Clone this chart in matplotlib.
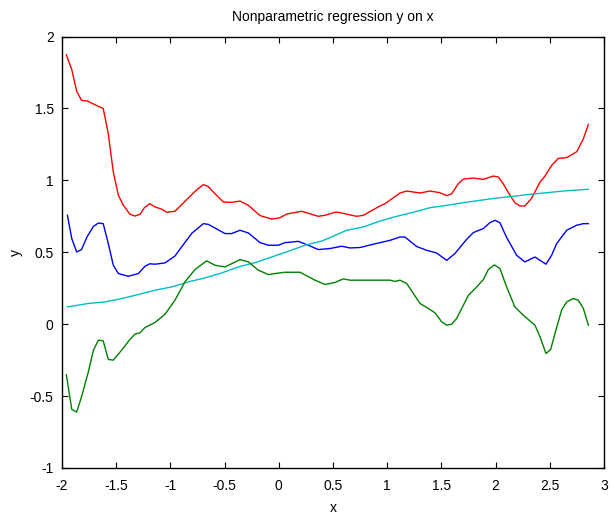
import matplotlib
matplotlib.use('Agg')
import matplotlib.pyplot as plt
import numpy as np

plt.rcParams['font.family'] = ['Liberation Sans', 'DejaVu Sans']

# upper band (red)
x_red = [-1.96, -1.91, -1.865, -1.82, -1.77, -1.68, -1.62, -1.573, -1.527, -1.48, -1.434, -1.373,
         -1.327, -1.28, -1.24, -1.19, -1.142, -1.08, -1.034, -0.958, -0.85, -0.757, -0.696, -0.656,
         -0.589, -0.512, -0.435, -0.358, -0.28, -0.173, -0.066, 0.011, 0.073, 0.211, 0.364, 0.426,
         0.518, 0.549, 0.718, 0.78, 0.933, 0.98, 1.118, 1.18, 1.303, 1.395, 1.487, 1.549, 1.595,
         1.656, 1.702, 1.795, 1.887, 1.979, 2.025, 2.07, 2.133, 2.18, 2.225, 2.27, 2.33, 2.41,
         2.456, 2.517, 2.578, 2.656, 2.75, 2.81, 2.856]
y_red = [1.873, 1.77, 1.62, 1.556, 1.553, 1.52, 1.5, 1.324, 1.058, 0.896, 0.826, 0.764,
         0.752, 0.764, 0.81, 0.838, 0.815, 0.8, 0.778, 0.785, 0.866, 0.935, 0.97, 0.96,
         0.907, 0.85, 0.847, 0.856, 0.826, 0.755, 0.731, 0.74, 0.766, 0.785, 0.75, 0.757,
         0.778, 0.778, 0.75, 0.757, 0.822, 0.838, 0.912, 0.926, 0.912, 0.926, 0.914, 0.894, 0.907,
         0.977, 1.009, 1.016, 1.007, 1.03, 1.023, 0.977, 0.896, 0.843, 0.822, 0.822, 0.873, 0.988,
         1.03, 1.104, 1.153, 1.158, 1.2, 1.29, 1.389]

# estimate (blue)
x_blue = [-1.95, -1.91, -1.865, -1.82, -1.77, -1.71, -1.665, -1.62, -1.573, -1.527, -1.48, -1.388,
          -1.296, -1.234, -1.19, -1.142, -1.05, -0.958, -0.897, -0.8, -0.696, -0.65, -0.496, -0.435,
          -0.358, -0.28, -0.173, -0.096, -0.004, 0.057, 0.18, 0.272, 0.364, 0.472, 0.58, 0.657,
          0.749, 0.872, 1.026, 1.118, 1.164, 1.272, 1.364, 1.456, 1.549, 1.625, 1.733, 1.795,
          1.887, 1.948, 1.994, 2.04, 2.1, 2.194, 2.27, 2.363, 2.465, 2.517, 2.563, 2.656, 2.748,
          2.81, 2.856]
y_blue = [0.757, 0.595, 0.502, 0.519, 0.606, 0.68, 0.703, 0.699, 0.56, 0.41, 0.352, 0.333,
          0.352, 0.403, 0.42, 0.417, 0.426, 0.474, 0.537, 0.634, 0.699, 0.694, 0.63, 0.63,
          0.653, 0.634, 0.567, 0.549, 0.549, 0.567, 0.576, 0.549, 0.519, 0.526, 0.542, 0.53,
          0.533, 0.556, 0.583, 0.606, 0.606, 0.54, 0.514, 0.495, 0.444, 0.491, 0.59, 0.637,
          0.665, 0.706, 0.722, 0.706, 0.606, 0.479, 0.433, 0.467, 0.417, 0.479, 0.56, 0.653, 0.688,
          0.699, 0.699]

# linear fit (cyan)
x_cyan = [-1.95, -1.757, -1.603, -1.45, -1.296, -1.142, -0.988, -0.835, -0.681, -0.527, -0.374,
          -0.22, -0.066, 0.088, 0.242, 0.395, 0.472, 0.626, 0.78, 0.933, 1.087, 1.24, 1.395,
          1.549, 1.702, 1.856, 2.01, 2.163, 2.317, 2.471, 2.625, 2.856]
y_cyan = [0.12, 0.144, 0.155, 0.178, 0.206, 0.236, 0.259, 0.294, 0.322, 0.356, 0.398,
          0.428, 0.467, 0.507, 0.549, 0.578, 0.602, 0.653, 0.676, 0.717, 0.75, 0.778, 0.81,
          0.826, 0.845, 0.861, 0.877, 0.889, 0.903, 0.914, 0.926, 0.938]

# lower band (green)
x_green = [-1.96, -1.91, -1.865, -1.82, -1.757, -1.71, -1.665, -1.62, -1.573, -1.527, -1.45, -1.373,
           -1.327, -1.28, -1.234, -1.142, -1.05, -0.958, -0.866, -0.773, -0.666, -0.589, -0.496,
           -0.358, -0.28, -0.188, -0.096, -0.035, 0.057, 0.196, 0.334, 0.426, 0.518, 0.595, 0.657,
           1.026, 1.072, 1.118, 1.18, 1.303, 1.38, 1.441, 1.503, 1.549, 1.595, 1.641, 1.749, 1.826,
           1.887, 1.933, 1.989, 2.04, 2.102, 2.178, 2.256, 2.363, 2.41, 2.465, 2.508, 2.548, 2.609,
           2.656, 2.717, 2.763, 2.81, 2.856]
y_green = [-0.352, -0.593, -0.611, -0.505, -0.331, -0.181, -0.111, -0.116, -0.245, -0.25, -0.181, -0.106,
           -0.069, -0.06, -0.023, 0.012, 0.069, 0.167, 0.294, 0.38, 0.44, 0.41, 0.398,
           0.449, 0.433, 0.375, 0.345, 0.352, 0.361, 0.361, 0.306, 0.276, 0.29, 0.315, 0.306,
           0.306, 0.297, 0.306, 0.283, 0.144, 0.109, 0.079, 0.016, -0.007, 0.0, 0.04, 0.201, 0.259,
           0.31, 0.38, 0.412, 0.387, 0.259, 0.12, 0.062, -0.007, -0.088, -0.204, -0.176, -0.065, 0.097,
           0.155, 0.178, 0.167, 0.109, -0.007]

fig = plt.figure(figsize=(6.11, 5.17), dpi=100)
ax = fig.add_axes([0.1015, 0.0948, 0.887, 0.8345])

ax.plot(x_red, y_red, color='#ff0000', lw=1)
ax.plot(x_blue, y_blue, color='#0000ff', lw=1)
ax.plot(x_cyan, y_cyan, color='#00bfbf', lw=1)
ax.plot(x_green, y_green, color='#008000', lw=1)

ax.set_xlim(-2, 3)
ax.set_ylim(-1, 2)
ax.set_xticks(np.arange(-2, 3.01, 0.5))
ax.set_yticks(np.arange(-1, 2.01, 0.5))
ax.set_xticklabels(['-2', '-1.5', '-1', '-0.5', '0', '0.5', '1', '1.5', '2', '2.5', '3'])
ax.set_yticklabels(['-1', '-0.5', '0', '0.5', '1', '1.5', '2'])
ax.tick_params(direction='in', top=True, right=True, length=4.5, labelsize=10)
ax.tick_params(axis='x', pad=8)
ax.tick_params(axis='y', pad=6)
for s in ax.spines.values():
    s.set_linewidth(1)

ax.set_title('Nonparametric regression y on x', fontsize=10, pad=11)
ax.set_xlabel('x', fontsize=10, labelpad=6)
ax.set_ylabel('y', fontsize=10, labelpad=5)

fig.savefig('out.png', dpi=100)
